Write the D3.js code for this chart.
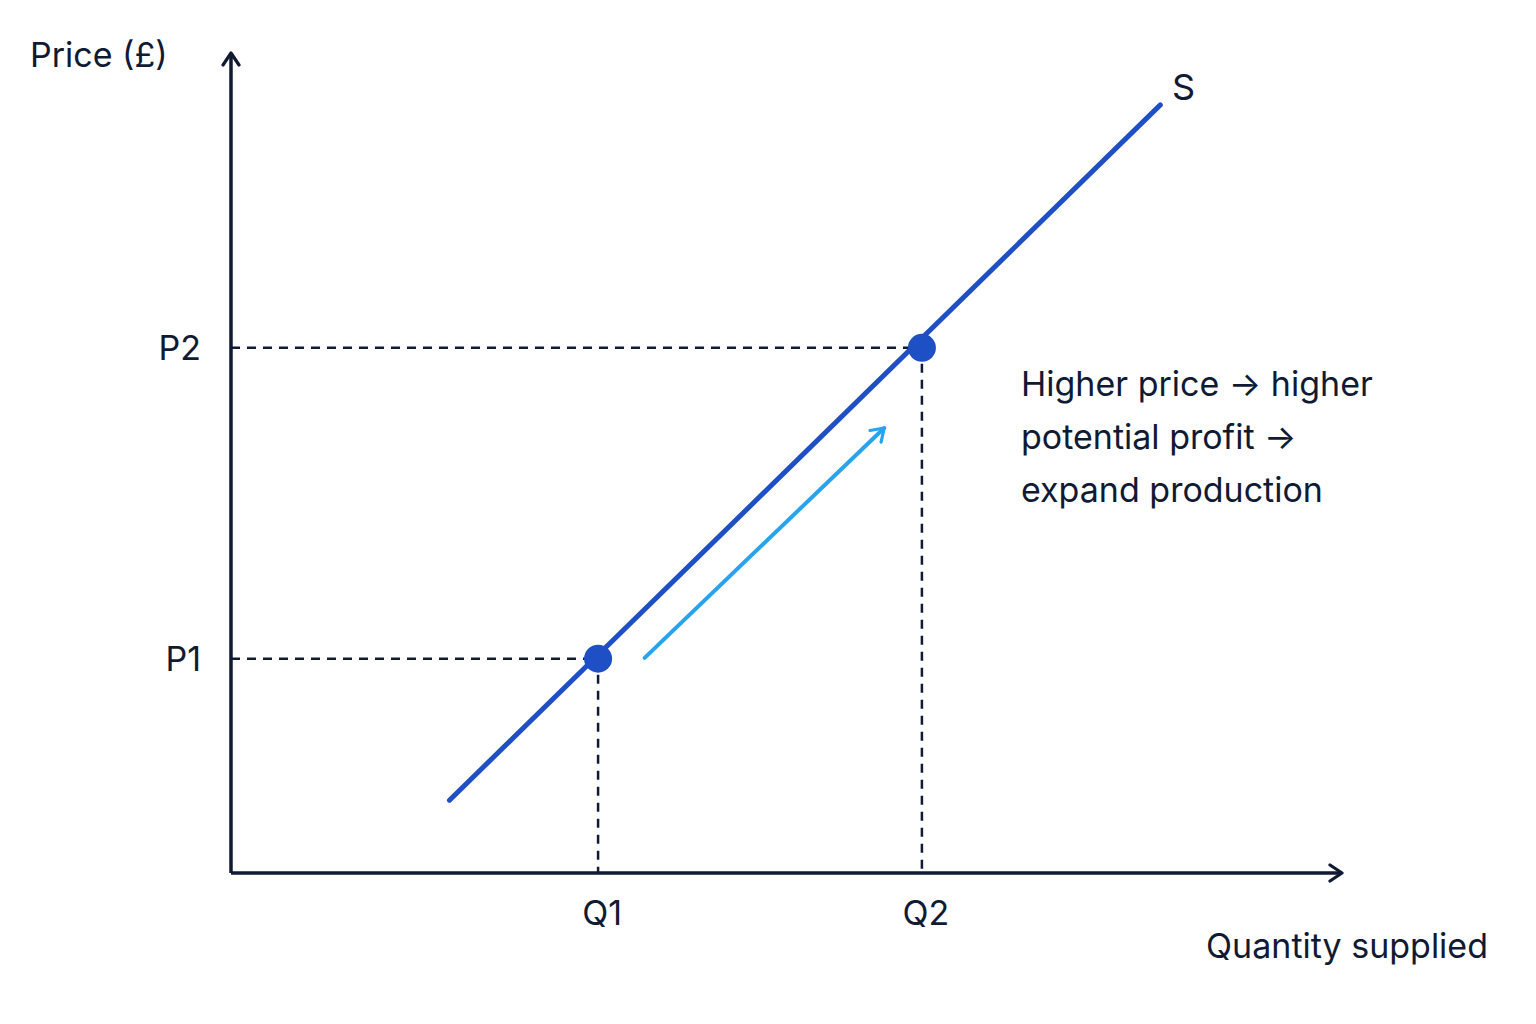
<!DOCTYPE html>
<html><head><meta charset="utf-8">
<script src="https://cdn.jsdelivr.net/npm/d3@7"></script>
<style>body{margin:0;background:#fff}text{font-family:Inter,"Noto Sans",sans-serif;fill:#111a33}</style>
</head><body><svg id="c" width="1536" height="1024"></svg>
<script>
const supplyLine=[{q:19.7,p:8.9},{q:83.8,p:93.9}];
const points=[{name:"1",q:33.1,p:26.2},{name:"2",q:62.3,p:64.2}];
const moveArrow=[{q:37.3,p:26.3},{q:58.9,p:54.4}];
const note=["Higher price \u2192 higher","potential profit \u2192","expand production"];

const svg=d3.select("#c");
const x=d3.scaleLinear().domain([0,100]).range([231,1340]);
const y=d3.scaleLinear().domain([0,100]).range([873,55]);
const ink="#111a33";
const defs=svg.append("defs");
function marker(id,color){defs.append("marker").attr("id",id).attr("viewBox","0 0 20 20").attr("refX",14).attr("refY",10)
 .attr("markerWidth",20).attr("markerHeight",20).attr("markerUnits","userSpaceOnUse").attr("orient","auto")
 .append("path").attr("d","M2,2 L14,10 L2,18").attr("fill","none").attr("stroke",color).attr("stroke-width",3.2).attr("stroke-linecap","round").attr("stroke-linejoin","round");}
marker("ak",ink);marker("ab","#2aa3ee");
// axes
svg.append("line").attr("x1",x(0)).attr("y1",y(0)).attr("x2",x(0)).attr("y2",y(100)-2).attr("stroke",ink).attr("stroke-width",3.5).attr("marker-end","url(#ak)");
svg.append("line").attr("x1",x(0)).attr("y1",y(0)).attr("x2",x(100)+2).attr("y2",y(0)).attr("stroke",ink).attr("stroke-width",3.5).attr("marker-end","url(#ak)");
// dashed guides
points.forEach(d=>{
 svg.append("line").attr("x1",x(0)).attr("x2",x(d.q)).attr("y1",y(d.p)).attr("y2",y(d.p)).attr("stroke",ink).attr("stroke-width",2.5).attr("stroke-dasharray","9,7");
 svg.append("line").attr("x1",x(d.q)).attr("x2",x(d.q)).attr("y1",y(d.p)).attr("y2",y(0)).attr("stroke",ink).attr("stroke-width",2.5).attr("stroke-dasharray","9,7");
 svg.append("text").attr("x",x(0)-30).attr("y",y(d.p)+12).attr("text-anchor","end").attr("font-size",34).text("P"+d.name);
 svg.append("text").attr("x",x(d.q)+4).attr("y",y(0)+52).attr("text-anchor","middle").attr("font-size",34).text("Q"+d.name);
});
const line=d3.line().x(d=>x(d.q)).y(d=>y(d.p));
svg.append("path").attr("d",line(supplyLine)).attr("stroke","#1f4fc4").attr("stroke-width",5).attr("fill","none").attr("stroke-linecap","round");
svg.append("path").attr("d",line(moveArrow)).attr("stroke","#2aa3ee").attr("stroke-width",4).attr("fill","none").attr("stroke-linecap","round").attr("marker-end","url(#ab)");
svg.selectAll("circle").data(points).join("circle").attr("cx",d=>x(d.q)).attr("cy",d=>y(d.p)).attr("r",14).attr("fill","#1f4fc4");
svg.append("text").attr("x",1172).attr("y",100).attr("font-size",36).text("S");
svg.append("text").attr("x",30).attr("y",67).attr("font-size",34).text("Price (£)");
svg.append("text").attr("x",1488).attr("y",958).attr("text-anchor","end").attr("font-size",34).text("Quantity supplied");
note.forEach((t,i)=>svg.append("text").attr("x",1021).attr("y",396+i*53).attr("font-size",34).text(t));
</script></body></html>
